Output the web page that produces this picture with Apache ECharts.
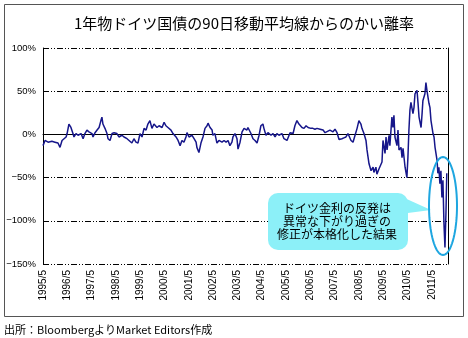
<!DOCTYPE html>
<html><head><meta charset="utf-8">
<script src="https://cdn.jsdelivr.net/npm/echarts@6/dist/echarts.min.js"></script>
<style>html,body{margin:0;padding:0;background:#fff}#c{width:468px;height:338px}</style>
</head><body><div id="c"></div>
<script>
const chartTitle = '1年物ドイツ国債の90日移動平均線からのかい離率';
const sourceNote = '出所：BloombergよりMarket Editors作成';
const calloutLines = ['ドイツ金利の反発は', '異常な下がり過ぎの', '修正が本格化した結果'];
const yearLabels = ['1995/5','1996/5','1997/5','1998/5','1999/5','2000/5','2001/5','2002/5','2003/5','2004/5','2005/5','2006/5','2007/5','2008/5','2009/5','2010/5','2011/5'];
// months elapsed since May 1995
const months = [0,1.0,2.5,4.4,5.9,7.4,8.4,9.4,10.4,11.4,11.9,12.8,13.8,14.8,15.3,16.3,17.3,18.8,19.8,20.7,21.7,22.7,24.2,24.7,25.7,26.7,27.7,28.6,29.1,29.6,30.6,31.6,32.1,33.1,34.1,35.1,36.5,37.5,39.0,40.0,41.5,42.5,43.9,44.9,45.9,46.9,47.9,48.9,49.9,
50.9,51.8,52.8,53.8,54.8,56.3,57.3,58.8,59.8,60.7,61.7,63.2,64.2,65.7,66.7,67.7,68.6,69.6,70.6,71.1,72.1,73.6,74.6,75.6,76.0,77.0,78.0,79.0,80.0,81.0,81.5,82.5,83.5,83.9,84.9,85.9,86.9,88.4,89.4,90.4,91.4,92.3,93.3,93.8,94.8,95.8,96.3,97.3,98.3,99.3,
100.7,101.2,102.7,103.7,104.7,105.7,106.7,107.6,108.6,109.1,110.1,111.1,112.6,113.6,114.6,115.5,116.5,118.0,119.0,120.5,121.0,122.0,123.5,124.4,125.4,126.4,127.9,128.9,129.9,130.9,132.3,133.3,134.3,135.3,136.8,138.3,139.3,140.2,141.7,143.2,144.2,145.2,146.2,147.6,
148.6,149.6,150.6,152.1,153.1,154.1,155.1,156.0,157.0,157.5,158.5,159.5,160.0,161.0,162.0,163.0,163.4,164.4,164.9,165.9,167.4,167.9,168.9,169.4,169.9,170.9,171.3,172.3,172.8,173.3,173.8,174.8,175.3,175.8,176.8,177.3,177.8,178.8,179.7,180.2,180.7,181.2,181.7,182.7,183.2,183.7,184.7,185.2,185.7,186.7,187.2,187.6,188.6,189.1,189.6,190.6,191.1,191.6,192.6,193.1,193.6,194.6,195.0,195.5,196.0,196.5,197.0,197.5,198.0,198.5,199.0,199.4];
// deviation from 90-day moving average (%)
const values = [-13,-7,-9,-8,-9,-10,-15,-7,-5,-3,1,12,8,1,-3,1,-1,1,-5,1,5,3,1,-3,2,5,8,16,20,12,7,1,-5,-7,1,2,1,-3,-1,-3,-5,-7,-10,-5,-9,-10,1,-3,7,
5,12,16,7,12,8,10,8,14,10,8,5,1,-3,-7,-13,-7,-9,-3,2,-3,-1,-5,-9,-15,-21,-10,-3,7,10,13,8,5,-1,1,-10,-7,-9,-7,-9,-7,-13,-9,-3,1,-5,-17,-9,3,7,
5,8,1,-5,-7,-10,-1,10,12,7,-1,2,-1,1,-3,1,-1,1,-5,-7,-5,2,1,10,16,12,8,7,10,8,7,7,6,7,6,5,2,2,5,3,6,2,-6,-5,
-4,-3,1,-7,-9,-1,7,16,12,7,1,-7,-18,-34,-42,-38,-44,-38,-46,-40,-32,-7,-22,-3,-18,-1,-13,20,8,22,-3,-13,5,-18,-15,-27,-16,-38,-50,-27,5,28,37,24,31,47,51,36,20,8,24,39,47,60,51,36,31,16,1,-3,-15,-30,-45,-38,-57,-42,-73,-53,-103,-131,-90,-45];

const seriesData = months.map((m, i) => [m, values[i]]);

function ellipsePoints(cx, cy, rx, ry, n) {
  const pts = [];
  for (let i = 0; i < n; i++) {
    const a = 2 * Math.PI * i / n;
    pts.push([cx + rx * Math.cos(a), cy + ry * Math.sin(a)]);
  }
  return pts;
}

const chart = echarts.init(document.getElementById('c'), null, {renderer: 'canvas'});
const axisFont = 'Liberation Sans, Arial, sans-serif';
const jpFont = '"Noto Sans CJK JP", sans-serif';
chart.setOption({
  animation: false,
  backgroundColor: '#fff',
  grid: {left: 43, right: 20, top: 48, bottom: 74},
  xAxis: {
    type: 'value', min: 0, max: 200, interval: 12,
    axisLine: {show: true, lineStyle: {color: '#000', width: 1}},
    axisTick: {show: false},
    splitLine: {show: false},
    axisLabel: {
      rotate: 90, margin: 6, fontSize: 10, color: '#000', fontFamily: axisFont,
      showMaxLabel: false,
      formatter: v => (v % 12 === 0 && yearLabels[v / 12]) ? yearLabels[v / 12] : ''
    }
  },
  yAxis: [{
    type: 'value', min: -150, max: 100, interval: 50,
    axisLine: {show: true, lineStyle: {color: '#000', width: 1}},
    axisTick: {show: false},
    splitLine: {show: true, lineStyle: {color: '#000', width: 1, type: [6, 2, 1, 2, 1, 2]}},
    axisLabel: {
      margin: 7, fontSize: 9.5, color: '#000', fontFamily: axisFont,
      formatter: v => (v < 0 ? '\u2212' : '') + Math.abs(v) + '%'
    }
  }, {
    type: 'value', min: -150, max: 100, interval: 50, position: 'right',
    axisLine: {show: true, lineStyle: {color: '#000', width: 1}},
    axisTick: {show: false}, axisLabel: {show: false}, splitLine: {show: false}
  }],
  series: [{
    type: 'line',
    data: seriesData,
    showSymbol: false,
    lineStyle: {color: '#16168a', width: 1.5},
    z: 3,
    markLine: {
      silent: true, symbol: 'none', label: {show: false},
      lineStyle: {color: '#000', width: 1, type: 'solid'},
      data: [{yAxis: 0}],
      z: 2
    }
  }],
  graphic: [
    {type: 'rect', shape: {x: 4.5, y: 4.5, width: 459, height: 312}, style: {fill: 'none', stroke: '#555', lineWidth: 1}, z: 0, silent: true},
    {type: 'text', x: 244, y: 23, style: {text: chartTitle, fill: '#000', font: '15px ' + jpFont, textAlign: 'center', textVerticalAlign: 'middle'}},
    {type: 'text', x: 4, y: 330, style: {text: sourceNote, fill: '#000', font: '11px ' + jpFont, textAlign: 'left', textVerticalAlign: 'middle'}},
    {type: 'polygon', shape: {points: [[400, 196], [400, 214], [431, 210]]}, style: {fill: '#8cf0f8'}, z: 10},
    {type: 'rect', shape: {x: 268, y: 193, width: 140, height: 57, r: 10}, style: {fill: '#8cf0f8'}, z: 10},
    {type: 'text', x: 337, y: 221.5, style: {text: calloutLines.join('\n'), fill: '#000', font: '12px ' + jpFont, lineHeight: 13, textAlign: 'center', textVerticalAlign: 'middle'}, z: 11},
    {type: 'polygon', shape: {points: ellipsePoints(443, 206, 14, 49, 80)}, style: {fill: 'none', stroke: '#1ea6e0', lineWidth: 2}, z: 10}
  ]
});
</script>
</body></html>
